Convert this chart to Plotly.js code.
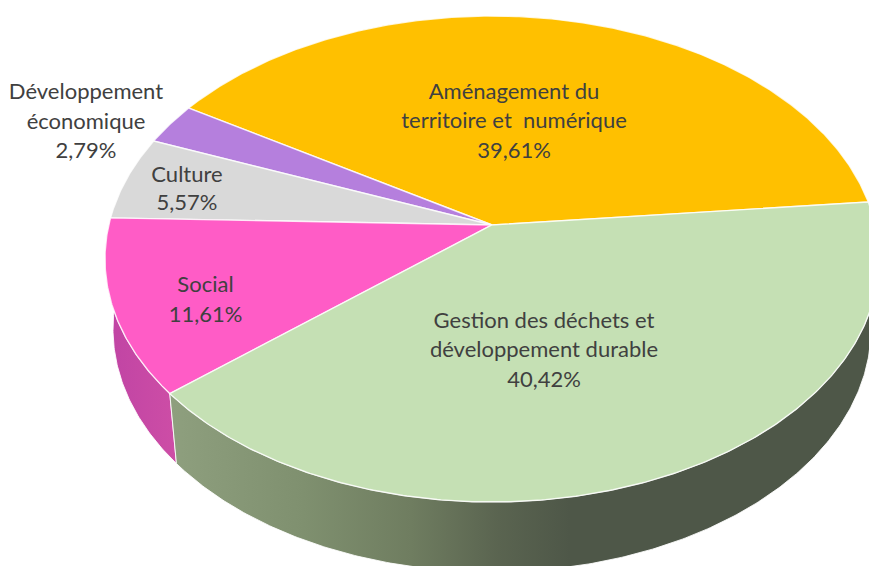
<!DOCTYPE html>
<html>
<head>
<meta charset="utf-8">
<script src="https://cdn.plot.ly/plotly-3.0.1.min.js"></script>
<style>html,body{margin:0;padding:0;background:#fff}#chart{width:869px;height:566px}</style>
</head>
<body>
<div id="chart"></div>
<script>
// Data, counter-clockwise from the first slice
const categories = ['Aménagement du territoire et numérique', 'Développement économique', 'Culture', 'Social', 'Gestion des déchets et développement durable'];
const values = [39.61, 2.79, 5.57, 11.61, 40.42];
const colors = ['#FFC000', '#B57FDD', '#D9D9D9', '#FF5CC6', '#C5E0B4'];
const labelLines = [
  ['Aménagement du', 'territoire et\u00A0\u00A0numérique'],
  ['Développement', 'économique'],
  ['Culture'],
  ['Social'],
  ['Gestion des déchets et', 'développement durable']
];
const labelX = [514, 86, 187, 205.5, 544];
const labelY = [
  [93, 122.5, 152],
  [93.5, 123, 152],
  [176, 204.5],
  [286, 316],
  [322, 351.5, 381]
];
const sideGradients = {
  3: [[0, '#C044A4'], [1, '#CE4EA6']],
  4: [[0, '#8E9F7E'], [0.33, '#7F906F'], [0.6, '#6F7D60'], [0.82, '#5A6450'], [1, '#4E5748']]
};
const sideStops = { 3: [108, 180], 4: [172, 570] };

// Perspective disc: top face and the bottom rim of the thick pie
const top_ = { cx: 492, cy: 259, rx: 387, ry: 243 };
const bot_ = { cx: 492, cy: 329, rx: 379, ry: 243 };
const apexShift = 0.14;
const startDeg = 5.6;
const sideFrom = 179, sideTo = 366;

function project(e, deg) {
  const t = deg * Math.PI / 180, u = Math.cos(t), v = Math.sin(t);
  const d = 1 + apexShift * v;
  return [e.cx + e.rx * u * Math.sqrt(1 - apexShift * apexShift) / d,
          e.cy - e.ry * (v + apexShift) / d];
}
function arc(e, a, b) {
  const n = Math.max(2, Math.ceil(Math.abs(b - a) * 2)), pts = [];
  for (let i = 0; i <= n; i++) pts.push(project(e, a + (b - a) * i / n));
  return pts;
}

const total = values.reduce((s, v) => s + v, 0);
const edges = [startDeg];
values.forEach(v => edges.push(edges[edges.length - 1] + v / total * 360));

const traces = [];
// Sides first
values.forEach((v, i) => {
  const a = Math.max(edges[i], sideFrom), b = Math.min(edges[i + 1], sideTo);
  if (b <= a || !sideGradients[i]) return;
  const pts = arc(top_, a, b).concat(arc(bot_, b, a));
  traces.push({
    type: 'scatter', mode: 'lines', x: pts.map(p => p[0]).concat(pts[0][0]), y: pts.map(p => p[1]).concat(pts[0][1]),
    fill: 'toself', line: { color: 'rgba(255,255,255,0.85)', width: 1 },
    fillgradient: { type: 'horizontal', colorscale: sideGradients[i], start: sideStops[i][0], stop: sideStops[i][1] },
    hoverinfo: 'skip'
  });
});
// Top face wedges
values.forEach((v, i) => {
  const centre = [top_.cx, top_.cy - top_.ry * apexShift];
  const pts = [centre].concat(arc(top_, edges[i], edges[i + 1]), [centre]);
  traces.push({
    type: 'scatter', mode: 'lines', x: pts.map(p => p[0]), y: pts.map(p => p[1]),
    fill: 'toself', fillcolor: colors[i], line: { color: 'rgba(255,255,255,0.8)', width: 1.4 },
    name: categories[i], hoverinfo: 'skip'
  });
});
// Labels
const tx = [], ty = [], tt = [];
values.forEach((v, i) => {
  const lines = labelLines[i].concat(v.toFixed(2).replace('.', ',') + '%');
  lines.forEach((s, j) => { tx.push(labelX[i]); ty.push(labelY[i][j]); tt.push(s); });
});
traces.push({
  type: 'scatter', mode: 'text', x: tx, y: ty, text: tt, textposition: 'middle center',
  textfont: { family: 'Lato, "Open Sans", sans-serif', size: 22, color: '#404040' }, hoverinfo: 'skip'
});

Plotly.newPlot('chart', traces, {
  width: 869, height: 566, margin: { l: 0, r: 0, t: 0, b: 0 }, showlegend: false,
  paper_bgcolor: '#fff', plot_bgcolor: '#fff', hovermode: false,
  xaxis: { range: [0, 869], visible: false, fixedrange: true },
  yaxis: { range: [566, 0], visible: false, fixedrange: true }
}, { displayModeBar: false, staticPlot: true });
</script>
</body>
</html>
